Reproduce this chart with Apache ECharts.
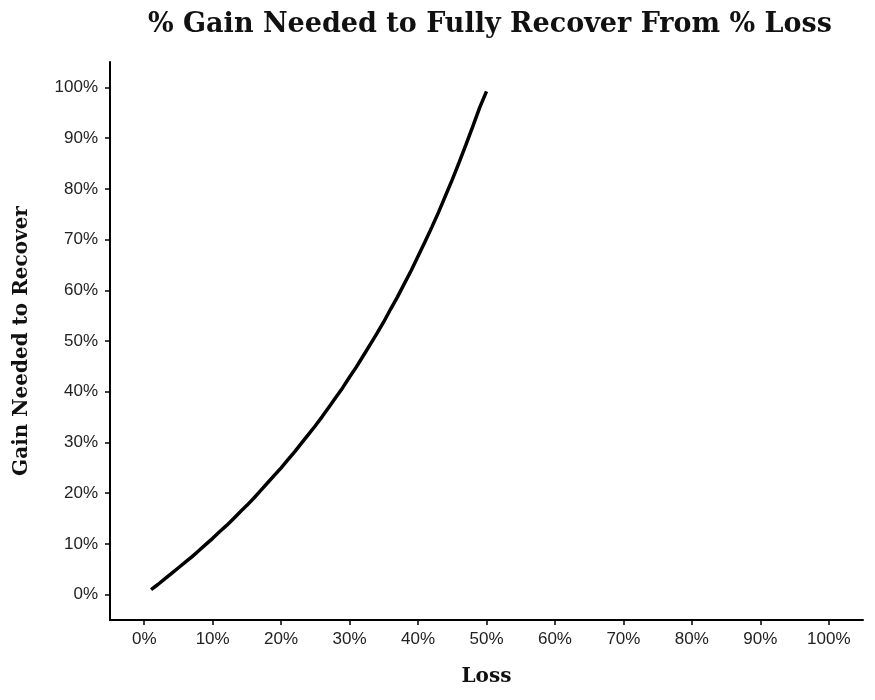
<!DOCTYPE html>
<html>
<head>
<meta charset="utf-8">
<script src="https://cdn.jsdelivr.net/npm/echarts@6/dist/echarts.min.js"></script>
<style>html,body{margin:0;padding:0;background:#fff;}#c{width:875px;height:700px;}</style>
</head>
<body>
<div id="c"></div>
<script>
var lossPct = [1,2,3,4,5,6,7,8,9,10,11,12,13,14,15,16,17,18,19,20,21,22,23,24,25,26,27,28,29,30,31,32,33,34,35,36,37,38,39,40,41,42,43,44,45,46,47,48,49,50];
var gainPct = [1.0,2.0,3.1,4.2,5.3,6.4,7.5,8.7,9.9,11.1,12.4,13.6,14.9,16.3,17.6,19.0,20.5,22.0,23.5,25.0,26.6,28.2,29.9,31.6,33.3,35.1,37.0,38.9,40.8,42.9,44.9,47.1,49.3,51.5,53.8,56.3,58.7,61.3,63.9,66.7,69.5,72.4,75.4,78.6,81.8,85.2,88.7,92.3,96.0,99.2];
var tickValues = [0,10,20,30,40,50,60,70,80,90,100];

var chart = echarts.init(document.getElementById('c'), null, {renderer: 'canvas'});
var pts = lossPct.map(function(x, i){ return [x, gainPct[i]]; });
var serif = 'DejaVu Serif';
var sans = 'Liberation Sans';
chart.setOption({
  animation: false,
  backgroundColor: '#ffffff',
  title: {
    text: '% Gain Needed to Fully Recover From % Loss',
    left: 485, top: 6, textAlign: 'center',
    textStyle: {fontFamily: serif, fontWeight: 'bold', fontSize: 27, color: '#111'}
  },
  grid: {left: 110, right: 12, top: 62, bottom: 80, containLabel: false, outerBoundsMode: 'none'},
  xAxis: {
    type: 'value', min: -5, max: 105,
    name: 'Loss', nameLocation: 'middle', nameGap: 47,
    nameTextStyle: {fontFamily: serif, fontWeight: 'bold', fontSize: 20, color: '#111'},
    axisLine: {show: true, onZero: false, lineStyle: {color: '#000', width: 2}},
    axisTick: {show: true, length: 5, customValues: tickValues, lineStyle: {color: '#000', width: 1.5}},
    axisLabel: {customValues: tickValues, formatter: '{value}%', fontFamily: sans, fontSize: 17, color: '#222', margin: 11},
    splitLine: {show: false}
  },
  yAxis: {
    type: 'value', min: -5, max: 105,
    name: 'Gain Needed to Recover', nameLocation: 'middle', nameGap: 78, nameRotate: 90,
    nameTextStyle: {fontFamily: serif, fontWeight: 'bold', fontSize: 20, color: '#111'},
    axisLine: {show: true, onZero: false, lineStyle: {color: '#000', width: 2}},
    axisTick: {show: true, length: 5, customValues: tickValues, lineStyle: {color: '#000', width: 1.5}},
    axisLabel: {customValues: tickValues, formatter: '{value}%', fontFamily: sans, fontSize: 17, color: '#222', margin: 12},
    splitLine: {show: false}
  },
  series: [{
    type: 'line', data: pts, showSymbol: false, smooth: false,
    lineStyle: {color: '#000', width: 3.5, cap: 'butt'}
  }]
});
</script>
</body>
</html>
